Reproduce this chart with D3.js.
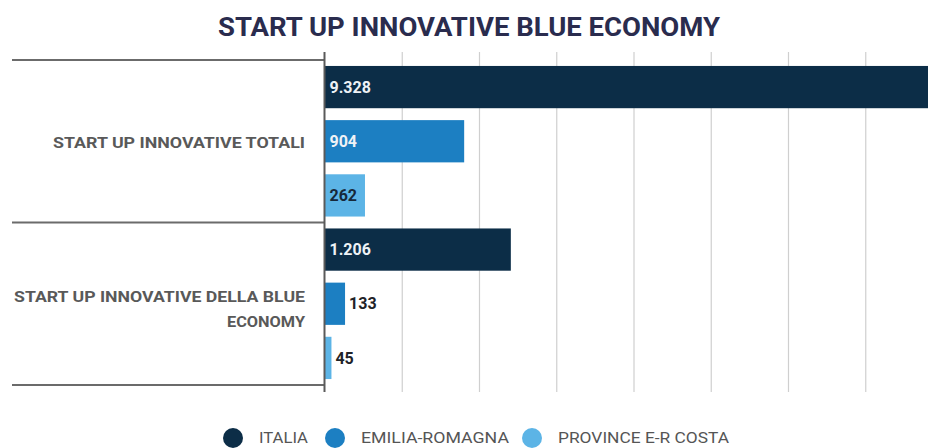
<!DOCTYPE html>
<html>
<head>
<meta charset="utf-8">
<script src="https://cdn.jsdelivr.net/npm/d3@7"></script>
<style>
  html, body { margin: 0; padding: 0; background: #ffffff; }
  svg { display: block; }
</style>
</head>
<body>
<div id="chart"></div>
<script>
const title = "START UP INNOVATIVE BLUE ECONOMY";
const categories = ["START UP INNOVATIVE TOTALI", "START UP INNOVATIVE DELLA BLUE ECONOMY"];
const categoryLines = [["START UP INNOVATIVE TOTALI"], ["START UP INNOVATIVE DELLA BLUE", "ECONOMY"]];
const series = ["ITALIA", "EMILIA-ROMAGNA", "PROVINCE E-R COSTA"];
const colors = ["#0c2d47", "#1c7fc2", "#5cb4e6"];
const valuesItalia = [9328, 1206];
const valuesEmilia = [904, 133];
const valuesProvince = [262, 45];
const valueLabels = [["9.328", "904", "262"], ["1.206", "133", "45"]];
const gridTicks = [0, 500, 1000, 1500, 2000, 2500, 3000, 3500];

const seriesValues = [valuesItalia, valuesEmilia, valuesProvince];
const W = 928, H = 448;

const svg = d3.select("#chart").append("svg")
  .attr("width", W).attr("height", H)
  .attr("viewBox", `0 0 ${W} ${H}`);

// title
svg.append("text")
  .attr("x", 469).attr("y", 36)
  .attr("text-anchor", "middle")
  .attr("font-family", "Roboto, 'Noto Sans', sans-serif")
  .attr("font-weight", 700)
  .attr("font-size", 26)
  .attr("fill", "#2a2c4e")
  .attr("textLength", 502)
  .attr("lengthAdjust", "spacingAndGlyphs")
  .text(title);

const axisX = 324.5;
const x = d3.scaleLinear().domain([0, 4000]).range([axisX, axisX + 4000 * 0.1545]);
const y0 = d3.scaleBand().domain(categories).range([60, 385]).paddingInner(0).paddingOuter(0);
const y1 = d3.scaleBand().domain(series).range([0, y0.bandwidth()]).paddingInner(0.22).paddingOuter(0.11);

// gridlines
const grid = svg.append("g").attr("class", "grid")
  .call(d3.axisTop(x).tickValues(gridTicks.slice(1)).tickSize(-(392 - 52)).tickFormat(""));
grid.attr("transform", "translate(0,52)");
grid.select(".domain").remove();
grid.selectAll(".tick line").attr("stroke", "#cfcfcf").attr("stroke-width", 1.2);

// clip for bars
svg.append("defs").append("clipPath").attr("id", "plotclip")
  .append("rect").attr("x", axisX).attr("y", 0).attr("width", W - axisX).attr("height", H);

const groups = svg.append("g").attr("clip-path", "url(#plotclip)")
  .selectAll("g.group").data(categories).join("g")
  .attr("class", "group")
  .attr("transform", d => `translate(0,${y0(d)})`);

groups.selectAll("rect").data((c, ci) => series.map((s, si) => ({ s, si, ci, v: seriesValues[si][ci] })))
  .join("rect")
  .attr("x", x(0))
  .attr("y", d => y1(d.s))
  .attr("width", d => x(d.v) - x(0))
  .attr("height", y1.bandwidth())
  .attr("fill", d => colors[d.si]);

// value labels
const labelG = svg.append("g");
categories.forEach((c, ci) => {
  series.forEach((s, si) => {
    const v = seriesValues[si][ci];
    const w = x(v) - x(0);
    const inside = w > 36;
    labelG.append("text")
      .attr("x", inside ? x(0) + 5 : x(v) + 4)
      .attr("y", y0(c) + y1(s) + y1.bandwidth() / 2)
      .attr("dy", "0.35em")
      .attr("font-family", "Roboto, 'Noto Sans', sans-serif")
      .attr("font-weight", 700)
      .attr("font-size", 16)
      .attr("fill", inside ? (si === 2 ? "#16283a" : "#eef2f6") : "#1f2328")
      .text(valueLabels[ci][si]);
  });
});

// separator lines on left
const sepYs = [y0.range()[0], ...categories.map(c => y0(c) + y0.bandwidth())];
svg.append("g").selectAll("line").data(sepYs).join("line")
  .attr("x1", 12).attr("x2", axisX)
  .attr("y1", d => d).attr("y2", d => d)
  .attr("stroke", "#6b6b6b").attr("stroke-width", 2);

// vertical axis line
svg.append("line")
  .attr("x1", axisX).attr("x2", axisX)
  .attr("y1", 52).attr("y2", 392)
  .attr("stroke", "#5a5a5a").attr("stroke-width", 2);

// category labels
const catWidths = [[252], [291, 78]];
const catOffsets = [1, 5];
categories.forEach((c, ci) => {
  const lines = categoryLines[ci];
  const cy = y0(c) + y0.bandwidth() / 2 + catOffsets[ci];
  const lh = 25;
  lines.forEach((ln, li) => {
    svg.append("text")
      .attr("x", 305)
      .attr("y", cy + (li - (lines.length - 1) / 2) * lh)
      .attr("dy", "0.35em")
      .attr("text-anchor", "end")
      .attr("font-family", "Roboto, 'Noto Sans', sans-serif")
      .attr("font-weight", 700)
      .attr("font-size", 15)
      .attr("fill", "#595959")
      .attr("textLength", catWidths[ci][li])
      .attr("lengthAdjust", "spacingAndGlyphs")
      .text(ln);
  });
});

// legend
const legendCircleX = [233, 335, 532];
const legendTextW = [49, 148, 171];
const legend = svg.append("g");
series.forEach((s, i) => {
  legend.append("circle")
    .attr("cx", legendCircleX[i]).attr("cy", 438).attr("r", 10)
    .attr("fill", colors[i]);
  legend.append("text")
    .attr("x", legendCircleX[i] + 26).attr("y", 438)
    .attr("dy", "0.35em")
    .attr("font-family", "Roboto, 'Noto Sans', sans-serif")
    .attr("font-size", 15)
    .attr("fill", "#555555")
    .attr("textLength", legendTextW[i])
    .attr("lengthAdjust", "spacingAndGlyphs")
    .text(s);
});
</script>
</body>
</html>
